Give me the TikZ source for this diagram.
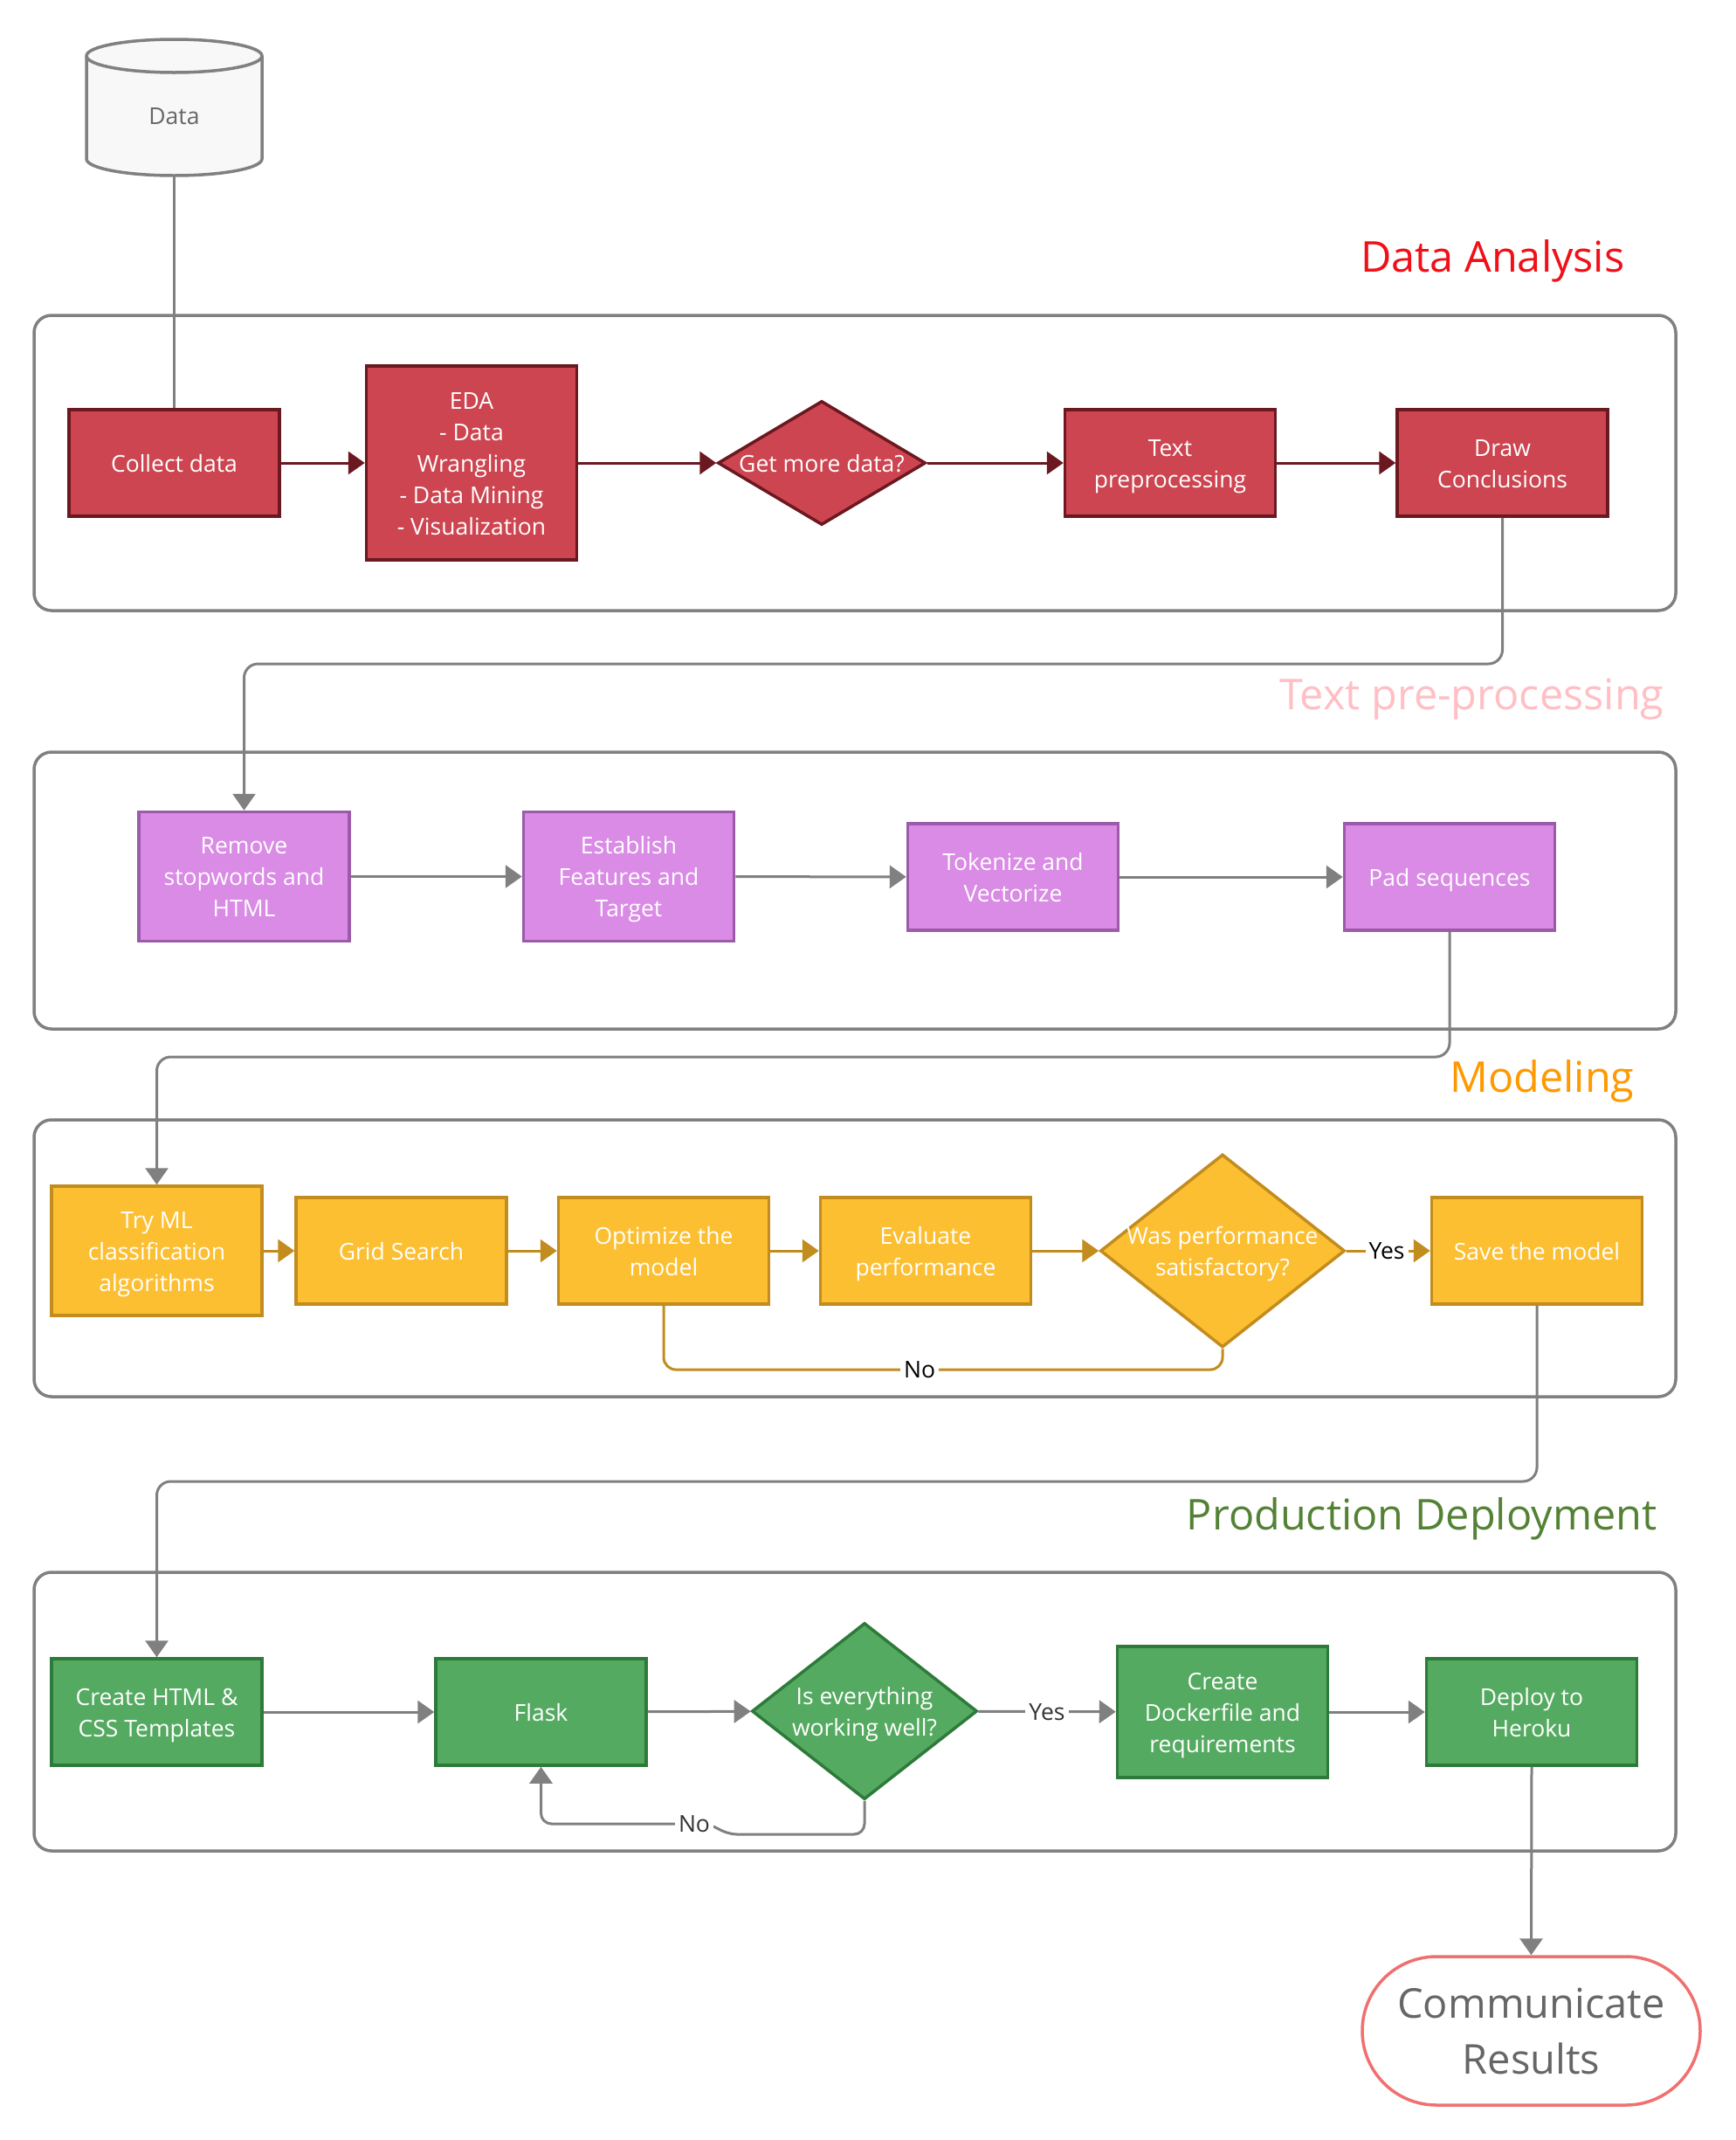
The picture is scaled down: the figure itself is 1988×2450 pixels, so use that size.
\documentclass[tikz,border=0pt]{standalone}
\usepackage{fontspec}
\setmainfont{Open Sans}
\usetikzlibrary{arrows.meta,shapes.geometric}

\definecolor{lineg}{HTML}{808080}
\definecolor{redfill}{HTML}{CC4550}
\definecolor{redline}{HTML}{6B1820}
\definecolor{purfill}{HTML}{D98BE5}
\definecolor{purline}{HTML}{9B5BA8}
\definecolor{yelfill}{HTML}{FCBF32}
\definecolor{yelline}{HTML}{C28C1E}
\definecolor{grnfill}{HTML}{55AA61}
\definecolor{grnline}{HTML}{2E7A3A}
\definecolor{txtgray}{HTML}{666666}
\definecolor{lblgray}{HTML}{333333}
\definecolor{cylfill}{HTML}{F8F8F8}
\definecolor{titlered}{HTML}{F01018}
\definecolor{titlepink}{HTML}{FFBFC4}
\definecolor{titleorange}{HTML}{FF9900}
\definecolor{titlegreen}{HTML}{548235}
\definecolor{resline}{HTML}{F07070}

% line-box strut: every text line gets the same ascent and descent
\newcommand{\lnst}{\rule[-7.8pt]{0pt}{36pt}}

\begin{document}
\begin{tikzpicture}[
  x=1pt, y=-1pt,
  font=\fontsize{26.5}{36}\selectfont,
  box/.style={rectangle, line width=3.5pt, text=white, align=center,
    minimum width=241pt, minimum height=122pt, inner sep=0pt},
  redbox/.style={box, fill=redfill, draw=redline},
  purbox/.style={box, fill=purfill, draw=purline},
  yelbox/.style={box, fill=yelfill, draw=yelline},
  grnbox/.style={box, fill=grnfill, draw=grnline},
  dia/.style={diamond, line width=3.5pt, inner sep=0pt},
  frame/.style={draw=lineg, line width=3.5pt, rounded corners=20pt},
  title/.style={anchor=base east, font=\fontsize{48.6}{58}\selectfont},
  tip/.style={-{Triangle[length=19pt,width=26pt]}},
  redconn/.style={draw=redline, line width=3pt, tip},
  yelconn/.style={draw=yelline, line width=3pt},
  grayconn/.style={draw=lineg, line width=3pt},
  lbl/.style={fill=white, inner xsep=4pt, inner ysep=2pt},
]
\useasboundingbox (0,0) rectangle (1988,2450);
\fill[white] (0,0) rectangle (1988,2450);

% ---------- section frames ----------
\draw[frame] (39,361) rectangle (1919,699);
\draw[frame] (39,861) rectangle (1919,1178);
\draw[frame] (39,1282) rectangle (1919,1599);
\draw[frame] (39,1800) rectangle (1919,2119);

% ---------- section titles ----------
\node[title, text=titlered]    (tda)  at (1864,311)  {Data Analysis};
\node[title, text=titlepink]   (ttp)  at (1909,812)  {Text pre-processing};
\node[title, text=titleorange] (tmod) at (1875,1250) {Modeling};
\node[title, text=titlegreen]  (tpd)  at (1901,1751) {Production Deployment};

% ---------- data store ----------
\filldraw[fill=cylfill, draw=lineg, line width=3.5pt]
  (99,64) -- (99,182) arc[start angle=180, end angle=0, x radius=100.5, y radius=19]
  -- (300,64) arc[start angle=0, end angle=-180, x radius=100.5, y radius=19] -- cycle;
\draw[lineg, line width=3.5pt]
  (99,64) arc[start angle=180, end angle=0, x radius=100.5, y radius=19];
\node[minimum width=201pt, minimum height=156pt, inner sep=0pt, text=txtgray]
  (data) at (199.5,123) {};
\node[text=txtgray] (datalbl) at (199.5,133) {Data};

% ---------- Data Analysis ----------
\node[redbox] (collect) at (199.5,530) {\lnst Collect data\lnst};
\node[redbox, minimum height=222pt] (eda) at (540,530)
  {\lnst EDA\\- Data\\Wrangling\\- Data Mining\\- Visualization\lnst};
\node[dia, fill=redfill, draw=redline, minimum width=238pt, minimum height=142pt,
  label={[text=white, align=center]center:\lnst Get more data?\lnst}] (more) at (941,530) {};
\node[redbox] (textpre) at (1340,530) {\lnst Text\\preprocessing\lnst};
\node[redbox] (concl) at (1720.5,530) {\lnst Draw\\Conclusions\lnst};

\draw[grayconn] (data.south) -- (collect.north);
\draw[redconn] (collect) -- (eda);
\draw[redconn] (eda) -- (more);
\draw[redconn] (more) -- (textpre);
\draw[redconn] (textpre) -- (concl);

% ---------- Text pre-processing ----------
\node[purbox, minimum height=148pt] (stopw) at (279.5,1003.5) {\lnst Remove\\stopwords and\\HTML\lnst};
\node[purbox, minimum height=148pt] (feat) at (720,1003.5) {\lnst Establish\\Features and\\Target\lnst};
\node[purbox] (token) at (1160,1004) {\lnst Tokenize and\\Vectorize\lnst};
\node[purbox] (pad) at (1660,1004) {\lnst Pad sequences\lnst};

\coordinate (b1) at (1000,760);
\draw[grayconn, tip, rounded corners=16pt] (concl.south) |- (b1) -| (stopw.north);
\draw[grayconn, tip] (stopw) -- (feat);
\draw[grayconn, tip] (feat) -- (token);
\draw[grayconn, tip] (token) -- (pad);

% ---------- Modeling ----------
\node[yelbox, minimum height=148pt] (tryml) at (179.5,1432) {\lnst Try ML\\classification\\algorithms\lnst};
\node[yelbox] (grid) at (459.5,1432) {\lnst Grid Search\lnst};
\node[yelbox] (optim) at (760,1432) {\lnst Optimize the\\model\lnst};
\node[yelbox] (evalp) at (1060,1432) {\lnst Evaluate\\performance\lnst};
\node[dia, fill=yelfill, draw=yelline, minimum width=280pt, minimum height=221pt,
  label={[text=white, align=center]center:\lnst Was performance\\satisfactory?\lnst}] (perf) at (1400,1432) {};
\node[yelbox] (save) at (1760,1432) {\lnst Save the model\lnst};

\coordinate (b2) at (1000,1210);
\draw[grayconn, tip, rounded corners=16pt] (pad.south) |- (b2) -| (tryml.north);
\draw[yelconn, tip] (tryml) -- (grid);
\draw[yelconn, tip] (grid) -- (optim);
\draw[yelconn, tip] (optim) -- (evalp);
\draw[yelconn, tip] (evalp) -- (perf);
\draw[yelconn, tip] (perf) -- (save);
\node[lbl, text=black] (yes1) at (1588,1432) {Yes};
\coordinate (b3) at (1053,1568);
\draw[yelconn, rounded corners=14pt] (optim.south) |- (b3) -| (perf.south);
\node[lbl, text=black] (no1) at (b3) {No};

% ---------- Production Deployment ----------
\node[grnbox] (html) at (179.5,1960) {\lnst Create HTML \&\\CSS Templates\lnst};
\node[grnbox] (flask) at (619.5,1960) {\lnst Flask\lnst};
\node[dia, fill=grnfill, draw=grnline, minimum width=258pt, minimum height=202pt,
  label={[text=white, align=center]center:\lnst Is everything\\working well?\lnst}] (works) at (990,1959) {};
\node[grnbox, minimum height=150pt] (docker) at (1400,1960) {\lnst Create\\Dockerfile and\\requirements\lnst};
\node[grnbox] (deploy) at (1754,1960) {\lnst Deploy to\\Heroku\lnst};
\node[rectangle, rounded corners=85pt, draw=resline, line width=3.5pt, fill=white,
  minimum width=387pt, minimum height=170pt, text=txtgray, align=center,
  font=\fontsize{47}{64}\selectfont] (comm) at (1753.5,2325) {Communicate\\Results};

\coordinate (b4) at (1000,1696);
\draw[grayconn, tip, rounded corners=16pt] (save.south) |- (b4) -| (html.north);
\draw[grayconn, tip] (html) -- (flask);
\draw[grayconn, tip] (flask) -- (works);
\draw[grayconn, tip] (works) -- (docker);
\node[lbl, text=lblgray] (yes2) at (1199,1960) {Yes};
\draw[grayconn, tip] (docker) -- (deploy);
\coordinate (b5) at (832,2100);
\coordinate (b6) at (814,2088);
\draw[grayconn, tip, rounded corners=12pt] (works.south) |- (b5) -- (b6) -| (flask.south);
\node[lbl, text=lblgray] (no2) at (795,2088) {No};
\draw[grayconn, tip] (deploy.south) -- (comm.north);

\end{tikzpicture}
\end{document}
